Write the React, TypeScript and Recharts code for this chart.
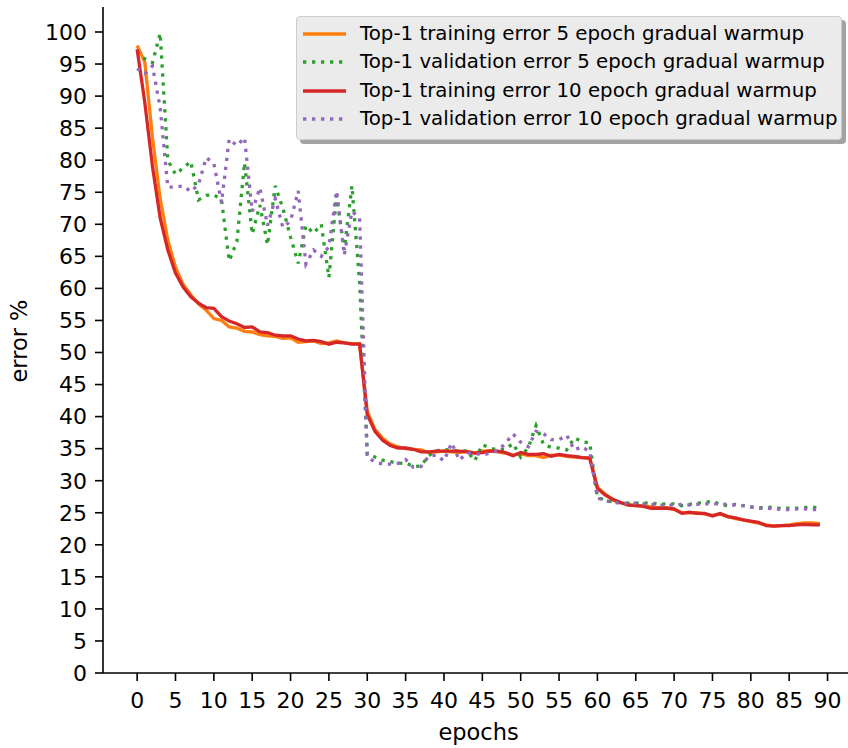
import React from 'react';
import { LineChart, Line, XAxis, YAxis, Legend, Label } from 'recharts';

const FONT = '"DejaVu Sans", sans-serif';

const train5 = [
  97.9, 95.3, 83.5, 74.0, 67.5, 63.3, 60.6, 59.0, 57.6, 56.6,
  55.3, 55.0, 54.0, 53.8, 53.3, 53.2, 52.8, 52.6, 52.5, 52.2,
  52.3, 51.6, 51.7, 51.8, 51.4, 51.5, 51.8, 51.5, 51.4, 51.4,
  40.8, 38.0, 36.6, 35.7, 35.3, 35.0, 34.9, 34.8, 34.4, 34.5,
  34.6, 34.5, 34.4, 34.6, 34.3, 34.6, 34.7, 34.5, 34.3, 34.0,
  34.2, 33.9, 33.9, 33.6, 34.0, 34.0, 33.8, 33.7, 33.6, 33.6,
  29.0, 27.9, 27.0, 26.6, 26.3, 26.1, 26.1, 25.9, 25.8, 25.8,
  25.5, 25.0, 25.0, 25.0, 24.8, 24.6, 24.8, 24.4, 24.1, 23.9,
  23.6, 23.4, 23.1, 22.9, 23.0, 23.1, 23.3, 23.4, 23.4, 23.3,
];

const val5 = [
  97.0, 95.8, 95.2, 99.8, 80.0, 77.8, 78.8, 79.8, 73.8, 74.5,
  74.6, 73.8, 64.3, 67.3, 79.6, 68.5, 73.0, 66.8, 76.0, 72.5,
  68.0, 63.9, 69.8, 68.6, 70.0, 61.7, 74.5, 66.0, 76.0, 61.0,
  34.1, 33.7, 33.2, 33.0, 32.7, 32.8, 32.2, 32.3, 33.9, 34.7,
  34.8, 34.9, 34.5, 34.7, 33.1, 35.6, 35.1, 34.8, 34.9, 35.8,
  33.7, 35.2, 38.6, 35.6, 35.2, 35.1, 34.8, 36.7, 36.1, 35.9,
  27.4, 27.0, 26.7, 26.6, 26.5, 26.5, 26.5, 26.6, 26.3, 26.4,
  26.4, 26.1, 26.3, 26.5, 26.6, 26.8, 26.3, 26.1, 26.3, 26.1,
  25.9, 25.8, 25.8, 25.9, 25.6, 25.7, 25.7, 25.8, 25.9, 25.7,
];

const train10 = [
  97.3, 89.0, 79.0, 71.0, 66.0, 62.4, 60.2, 58.7, 57.7, 57.0,
  56.9, 55.6, 54.9, 54.5, 53.9, 54.0, 53.2, 53.1, 52.7, 52.6,
  52.6, 52.1, 51.8, 51.9, 51.7, 51.3, 51.6, 51.5, 51.3, 51.3,
  40.3, 37.7, 36.3, 35.5, 35.1, 35.1, 34.9, 34.5, 34.5, 34.6,
  34.6, 34.6, 34.6, 34.5, 34.3, 34.4, 34.6, 34.6, 34.4, 33.9,
  34.4, 34.1, 34.1, 34.2, 33.8, 34.1, 33.9, 33.8, 33.6, 33.5,
  28.8, 27.8, 27.1, 26.6, 26.2, 26.1, 26.0, 25.7, 25.7, 25.7,
  25.6, 24.9, 25.1, 24.9, 24.9, 24.5, 24.9, 24.4, 24.2, 23.9,
  23.7, 23.5, 23.0, 22.9, 23.0, 23.0, 23.1, 23.2, 23.1, 23.1,
];

const val10 = [
  94.3, 93.5, 94.7, 88.2, 75.8, 75.8, 76.0, 75.1, 76.2, 80.4,
  79.5, 73.4, 83.3, 82.3, 83.5, 72.0, 75.7, 69.8, 74.0, 69.5,
  70.5, 75.2, 63.8, 66.0, 65.0, 66.5, 75.2, 65.2, 72.0, 71.0,
  33.7, 32.9, 32.6, 32.6, 32.7, 33.3, 32.1, 32.2, 33.8, 34.0,
  33.1, 35.9, 33.2, 34.3, 34.3, 34.0, 34.3, 34.7, 35.8, 37.3,
  36.0, 35.3, 37.7, 37.3, 36.4, 36.4, 37.1, 34.8, 35.3, 34.5,
  27.3, 26.9, 26.6, 26.5, 26.5, 26.5, 26.4, 26.3, 26.2, 26.2,
  26.2, 26.3, 26.2, 26.3, 26.4, 26.4, 26.4, 26.3, 26.2, 26.1,
  25.9, 25.7, 25.7, 25.6, 25.5, 25.5, 25.6, 25.6, 25.5, 25.5,
];

const xTicks = [0, 5, 10, 15, 20, 25, 30, 35, 40, 45, 50, 55, 60, 65, 70, 75, 80, 85, 90];
const yTicks = [0, 5, 10, 15, 20, 25, 30, 35, 40, 45, 50, 55, 60, 65, 70, 75, 80, 85, 90, 95, 100];

const series = [
  { key: 'train5', name: 'Top-1 training error 5 epoch gradual warmup', color: '#ff7f0e', dash: undefined as string | undefined },
  { key: 'val5', name: 'Top-1 validation error 5 epoch gradual warmup', color: '#2ca02c', dash: '3.3 5.7' },
  { key: 'train10', name: 'Top-1 training error 10 epoch gradual warmup', color: '#d62728', dash: undefined as string | undefined },
  { key: 'val10', name: 'Top-1 validation error 10 epoch gradual warmup', color: '#9467bd', dash: '3.3 5.7' },
];

const data = train5.map((v, i) => ({
  epoch: i,
  train5: v,
  val5: val5[i],
  train10: train10[i],
  val10: val10[i],
}));

const X_DOMAIN: [number, number] = [-4.45, 93.45];
const Y_DOMAIN: [number, number] = [0, 103.9];

const renderLegend = () => {
  return (
    <div
      style={{
        position: 'relative',
        width: 546,
        height: 124,
        background: '#ebebeb',
        border: '1px solid #cdcdcd',
        borderRadius: 4,
        boxShadow: '4px 4px 0 #a3a3a3',
        boxSizing: 'border-box',
      }}
    >
      {series.map((meta, i) => (
        <div
          key={meta.key}
          style={{
            position: 'absolute',
            left: 6,
            top: 16.8 + i * 28.35 - 12,
            height: 24,
            display: 'flex',
            alignItems: 'center',
            whiteSpace: 'nowrap',
          }}
        >
          <svg width={43} height={6} style={{ display: 'block' }}>
            <line
              x1={0}
              y1={3}
              x2={43}
              y2={3}
              stroke={meta.color}
              strokeWidth={3.3}
              strokeDasharray={meta.dash}
            />
          </svg>
          <span
            style={{
              marginLeft: 14,
              fontSize: 19.8,
              fontFamily: FONT,
              color: '#000',
              lineHeight: '24px',
            }}
          >
            {meta.name}
          </span>
        </div>
      ))}
    </div>
  );
};

export default function App() {
  return (
    <div
      style={{
        position: 'absolute',
        left: 0,
        top: 0,
        width: 848,
        height: 748,
        overflow: 'hidden',
        background: '#fff',
      }}
    >
      <LineChart
        width={860}
        height={748}
        data={data}
        margin={{ top: 7, right: 6, bottom: 0, left: 0 }}
      >
        <XAxis
          dataKey="epoch"
          type="number"
          domain={X_DOMAIN}
          ticks={xTicks}
          allowDataOverflow
          height={75}
          tickSize={8}
          tickMargin={11}
          axisLine={{ stroke: '#000', strokeWidth: 1.6 }}
          tickLine={{ stroke: '#000', strokeWidth: 1.6 }}
          tick={{ fontSize: 22, fill: '#000', fontFamily: FONT }}
          interval={0}
        >
          <Label
            value="epochs"
            position="insideBottom"
            offset={8}
            style={{ fontSize: 22.5, fill: '#000', fontFamily: FONT }}
          />
        </XAxis>
        <XAxis
          xAxisId="top"
          orientation="top"
          type="number"
          domain={X_DOMAIN}
          height={0}
          tick={false}
          tickLine={false}
          axisLine={{ stroke: '#000', strokeWidth: 1.6 }}
        />
        <YAxis
          type="number"
          domain={Y_DOMAIN}
          ticks={yTicks}
          allowDataOverflow
          width={103}
          tickSize={8}
          tickMargin={8}
          axisLine={{ stroke: '#000', strokeWidth: 1.6 }}
          tickLine={{ stroke: '#000', strokeWidth: 1.6 }}
          tick={{ fontSize: 22, fill: '#000', fontFamily: FONT }}
          interval={0}
        >
          <Label
            content={() => (
              <text
                x={27}
                y={341}
                transform="rotate(-90 27 341)"
                textAnchor="middle"
                fontSize={22.5}
                fill="#000"
                fontFamily={FONT}
              >
                error %
              </text>
            )}
          />
        </YAxis>
        <YAxis
          yAxisId="right"
          orientation="right"
          type="number"
          domain={Y_DOMAIN}
          width={0}
          tick={false}
          tickLine={false}
          axisLine={{ stroke: '#000', strokeWidth: 1.6 }}
        />
        {series.map((s) => (
          <Line
            key={s.key}
            type="linear"
            dataKey={s.key}
            name={s.name}
            stroke={s.color}
            strokeWidth={3.3}
            strokeDasharray={s.dash}
            dot={false}
            activeDot={false}
            isAnimationActive={false}
          />
        ))}
        <Legend
          layout="horizontal"
          verticalAlign="middle"
          align="center"
          content={renderLegend}
          wrapperStyle={{ left: 296, top: 16, width: 546, height: 124 }}
        />
      </LineChart>
    </div>
  );
}
